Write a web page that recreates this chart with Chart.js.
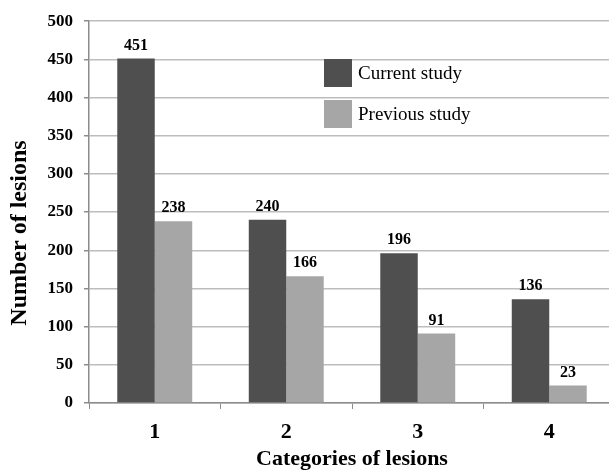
<!DOCTYPE html>
<html>
<head>
<meta charset="utf-8">
<script src="https://cdn.jsdelivr.net/npm/chart.js@4.4.1/dist/chart.umd.min.js"></script>
<style>
  html, body { margin: 0; padding: 0; background: #fff; overflow: hidden; }
  #wrap { width: 620px; height: 473px; }
</style>
</head>
<body>
<div id="wrap"><canvas id="lesionChart" width="620" height="473"></canvas></div>
<script>
// values
const categories = ['1', '2', '3', '4'];
const currentStudy = [451, 240, 196, 136];
const previousStudy = [238, 166, 91, 23];
const yTicks = [0, 50, 100, 150, 200, 250, 300, 350, 400, 450, 500];
const yTitle = 'Number of lesions';

const serif = "'Liberation Serif', 'Times New Roman', serif";

// value labels above each bar
const barValues = {
    id: 'barValues',
    afterDatasetsDraw(chart) {
        const ctx = chart.ctx;
        ctx.save();
        ctx.font = 'bold 16px ' + serif;
        ctx.fillStyle = '#000';
        ctx.textAlign = 'center';
        ctx.textBaseline = 'bottom';
        chart.data.datasets.forEach((ds, i) => {
            chart.getDatasetMeta(i).data.forEach((bar, j) => {
                ctx.fillText(ds.data[j], bar.x, bar.y - 5);
            });
        });
        ctx.restore();
    }
};

// legend inside the plot + y title (sits a bit below the axis middle in the original)
const innerLegend = {
    id: 'innerLegend',
    afterDraw(chart) {
        const ctx = chart.ctx;
        ctx.save();
        ctx.font = '19px ' + serif;
        ctx.textBaseline = 'middle';
        chart.data.datasets.forEach((ds, i) => {
            const y = 59 + i * 41;
            ctx.fillStyle = ds.backgroundColor;
            ctx.fillRect(324, y, 28, 28);
            ctx.fillStyle = '#000';
            ctx.fillText(ds.label, 358, y + 15);
        });
        ctx.translate(20, 233);
        ctx.rotate(-Math.PI / 2);
        ctx.textAlign = 'center';
        ctx.font = 'bold 24px ' + serif;
        ctx.fillText(yTitle, 0, 0);
        ctx.restore();
    }
};

new Chart(document.getElementById('lesionChart').getContext('2d'), {
    type: 'bar',
    data: {
        labels: categories,
        datasets: [
            { label: 'Current study', data: currentStudy, backgroundColor: '#4f4f4f' },
            { label: 'Previous study', data: previousStudy, backgroundColor: '#a6a6a6' }
        ]
    },
    options: {
        responsive: false,
        animation: false,
        layout: { padding: { top: 9, right: 5, left: 0, bottom: 0 } },
        datasets: { bar: { categoryPercentage: 0.57, barPercentage: 1.0 } },
        plugins: { legend: { display: false }, tooltip: { enabled: false } },
        scales: {
            x: {
                grid: { drawOnChartArea: false, color: '#8c8c8c', tickLength: 6, lineWidth: 1 },
                border: { color: '#8c8c8c', width: 1.5 },
                ticks: { color: '#000', font: { family: serif, size: 22, weight: 'bold' }, padding: 10 },
                title: { display: true, text: 'Categories of lesions', color: '#000',
                         font: { family: serif, size: 22, weight: 'bold' }, padding: { top: 0, bottom: 0 } },
                afterFit(scale) { scale.height = 70; }
            },
            y: {
                min: 0, max: 500,
                afterBuildTicks(scale) { scale.ticks = yTicks.map(v => ({ value: v })); },
                grid: { color: '#bdbdbd', lineWidth: 1.5, tickLength: 5, tickColor: '#8c8c8c' },
                border: { color: '#8c8c8c', width: 1.5 },
                ticks: { color: '#000', font: { family: serif, size: 17, weight: 'bold' }, padding: 11 },
                afterFit(scale) { scale.width = 89; }
            }
        }
    },
    plugins: [barValues, innerLegend]
});
</script>
</body>
</html>
